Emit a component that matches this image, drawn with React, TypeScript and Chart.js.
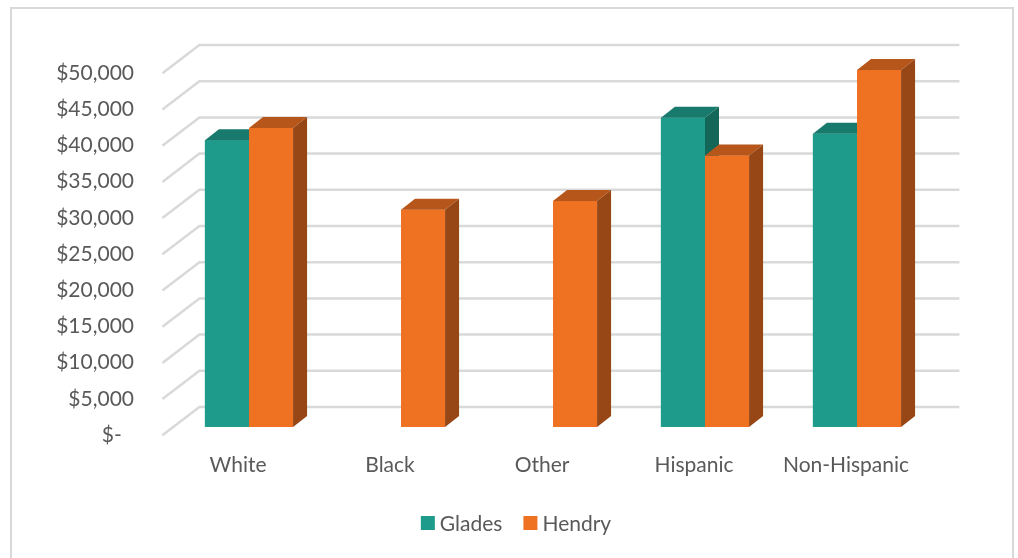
import React, { useEffect, useRef } from "react";
import { Chart, registerables } from "chart.js";

Chart.register(...registerables);

const categories = ["White", "Black", "Other", "Hispanic", "Non-Hispanic"];
const gladesValues = [39600, null, null, 42700, 40500];
const hendryValues = [41300, 30000, 31200, 37500, 49300];
const seriesNames = ["Glades", "Hendry"];
const yMin = 0;
const yMax = 50000;
const yStep = 5000;

const FONT = "Lato, 'Open Sans', sans-serif";
const FONT_SIZE = 21;
const TEXT = "#595959";

const FRONT = { dx: -10.6, dy: 8.3 };
const BACK = { dx: 26.4, dy: -20 };
const DEPTH = { dx: 14, dy: -11 };

const faces = [
  { front: "#1F9B8B", top: "#187A6D", side: "#146658" },
  { front: "#EE7222", top: "#B6561A", side: "#974616" },
];

const LEGEND = { centerX: 516, centerY: 523, box: 14, gap: 5, itemGap: 21 };

const plugin3d = {
  id: "bars3d",
  beforeDatasetsDraw(chart: any) {
    const { ctx, chartArea, scales } = chart;
    const y = scales.y;
    ctx.save();
    ctx.strokeStyle = "#d9d9d9";
    ctx.lineWidth = 2.5;
    y.ticks.forEach((t: any) => {
      const py = y.getPixelForValue(t.value);
      ctx.beginPath();
      ctx.moveTo(chartArea.left + FRONT.dx, py + FRONT.dy);
      ctx.lineTo(chartArea.left + BACK.dx, py + BACK.dy);
      ctx.lineTo(chartArea.right + BACK.dx, py + BACK.dy);
      ctx.stroke();
    });
    ctx.restore();
  },
  afterDatasetsDraw(chart: any) {
    const { ctx } = chart;
    ctx.save();
    for (let i = 0; i < categories.length; i++) {
      chart.data.datasets.forEach((ds: any, d: number) => {
        if (ds.data[i] == null) return;
        const meta = chart.getDatasetMeta(d);
        const el = meta.data[i];
        if (!el) return;
        const { x, y, base, width } = el.getProps(["x", "y", "base", "width"], true);
        const l = x - width / 2;
        const r = x + width / 2;
        const c = faces[d];
        ctx.fillStyle = c.front;
        ctx.fillRect(l, y, width, base - y);
        ctx.fillStyle = c.top;
        ctx.beginPath();
        ctx.moveTo(l, y);
        ctx.lineTo(r, y);
        ctx.lineTo(r + DEPTH.dx, y + DEPTH.dy);
        ctx.lineTo(l + DEPTH.dx, y + DEPTH.dy);
        ctx.closePath();
        ctx.fill();
        ctx.fillStyle = c.side;
        ctx.beginPath();
        ctx.moveTo(r, y);
        ctx.lineTo(r + DEPTH.dx, y + DEPTH.dy);
        ctx.lineTo(r + DEPTH.dx, base + DEPTH.dy);
        ctx.lineTo(r, base);
        ctx.closePath();
        ctx.fill();
      });
    }
    ctx.restore();
  },
  afterDraw(chart: any) {
    const { ctx } = chart;
    ctx.save();
    ctx.font = `${FONT_SIZE}px ${FONT}`;
    ctx.textBaseline = "middle";
    ctx.textAlign = "left";
    const items = chart.data.datasets.map((ds: any, d: number) => ({
      text: ds.label,
      color: faces[d].front,
      w: LEGEND.box + LEGEND.gap + ctx.measureText(ds.label).width,
    }));
    const total =
      items.reduce((s: number, it: any) => s + it.w, 0) + LEGEND.itemGap * (items.length - 1);
    let x = LEGEND.centerX - total / 2;
    items.forEach((it: any) => {
      ctx.fillStyle = it.color;
      ctx.fillRect(x, LEGEND.centerY - LEGEND.box / 2, LEGEND.box, LEGEND.box);
      ctx.fillStyle = TEXT;
      ctx.fillText(it.text, x + LEGEND.box + LEGEND.gap, LEGEND.centerY + 1);
      x += it.w + LEGEND.itemGap;
    });
    ctx.restore();
  },
};

export default function App() {
  const ref = useRef<HTMLCanvasElement | null>(null);

  useEffect(() => {
    if (!ref.current) return;
    const chart = new Chart(ref.current, {
      type: "bar",
      data: {
        labels: categories,
        datasets: [
          {
            label: seriesNames[0],
            data: gladesValues,
            backgroundColor: faces[0].front,
            categoryPercentage: 0.58,
            barPercentage: 1.0,
          },
          {
            label: seriesNames[1],
            data: hendryValues,
            backgroundColor: faces[1].front,
            categoryPercentage: 0.58,
            barPercentage: 1.0,
          },
        ],
      },
      options: {
        animation: false,
        responsive: false,
        maintainAspectRatio: false,
        layout: { padding: { left: 0, right: 85, top: 65, bottom: 65 } },
        plugins: {
          tooltip: { enabled: false },
          legend: { display: false },
        },
        scales: {
          x: {
            grid: { display: false, drawTicks: false },
            border: { display: false },
            ticks: {
              font: { family: FONT, size: FONT_SIZE },
              color: TEXT,
              padding: 26,
              labelOffset: -11,
              maxRotation: 0,
            },
            afterFit: (s: any) => {
              s.height = 66;
            },
          },
          y: {
            min: yMin,
            max: yMax,
            grid: { display: false, drawTicks: false },
            border: { display: false },
            ticks: {
              stepSize: yStep,
              font: { family: FONT, size: FONT_SIZE },
              color: TEXT,
              padding: 39,
              labelOffset: 8,
              callback: (v: any) =>
                Number(v) === 0 ? "$-\u2007" : "$" + Number(v).toLocaleString("en-US"),
            },
            afterFit: (s: any) => {
              s.width = 173;
            },
          },
        },
      },
      plugins: [plugin3d],
    });
    return () => chart.destroy();
  }, []);

  return (
    <>
      <div
        style={{
          position: "fixed",
          left: 10,
          top: 7,
          width: 1004,
          height: 600,
          border: "2px solid #d9d9d9",
          boxSizing: "border-box",
          background: "#fff",
        }}
      />
      <canvas
        ref={ref}
        width={1018}
        height={558}
        style={{ position: "fixed", left: 0, top: 0, width: 1018, height: 558 }}
      />
    </>
  );
}
